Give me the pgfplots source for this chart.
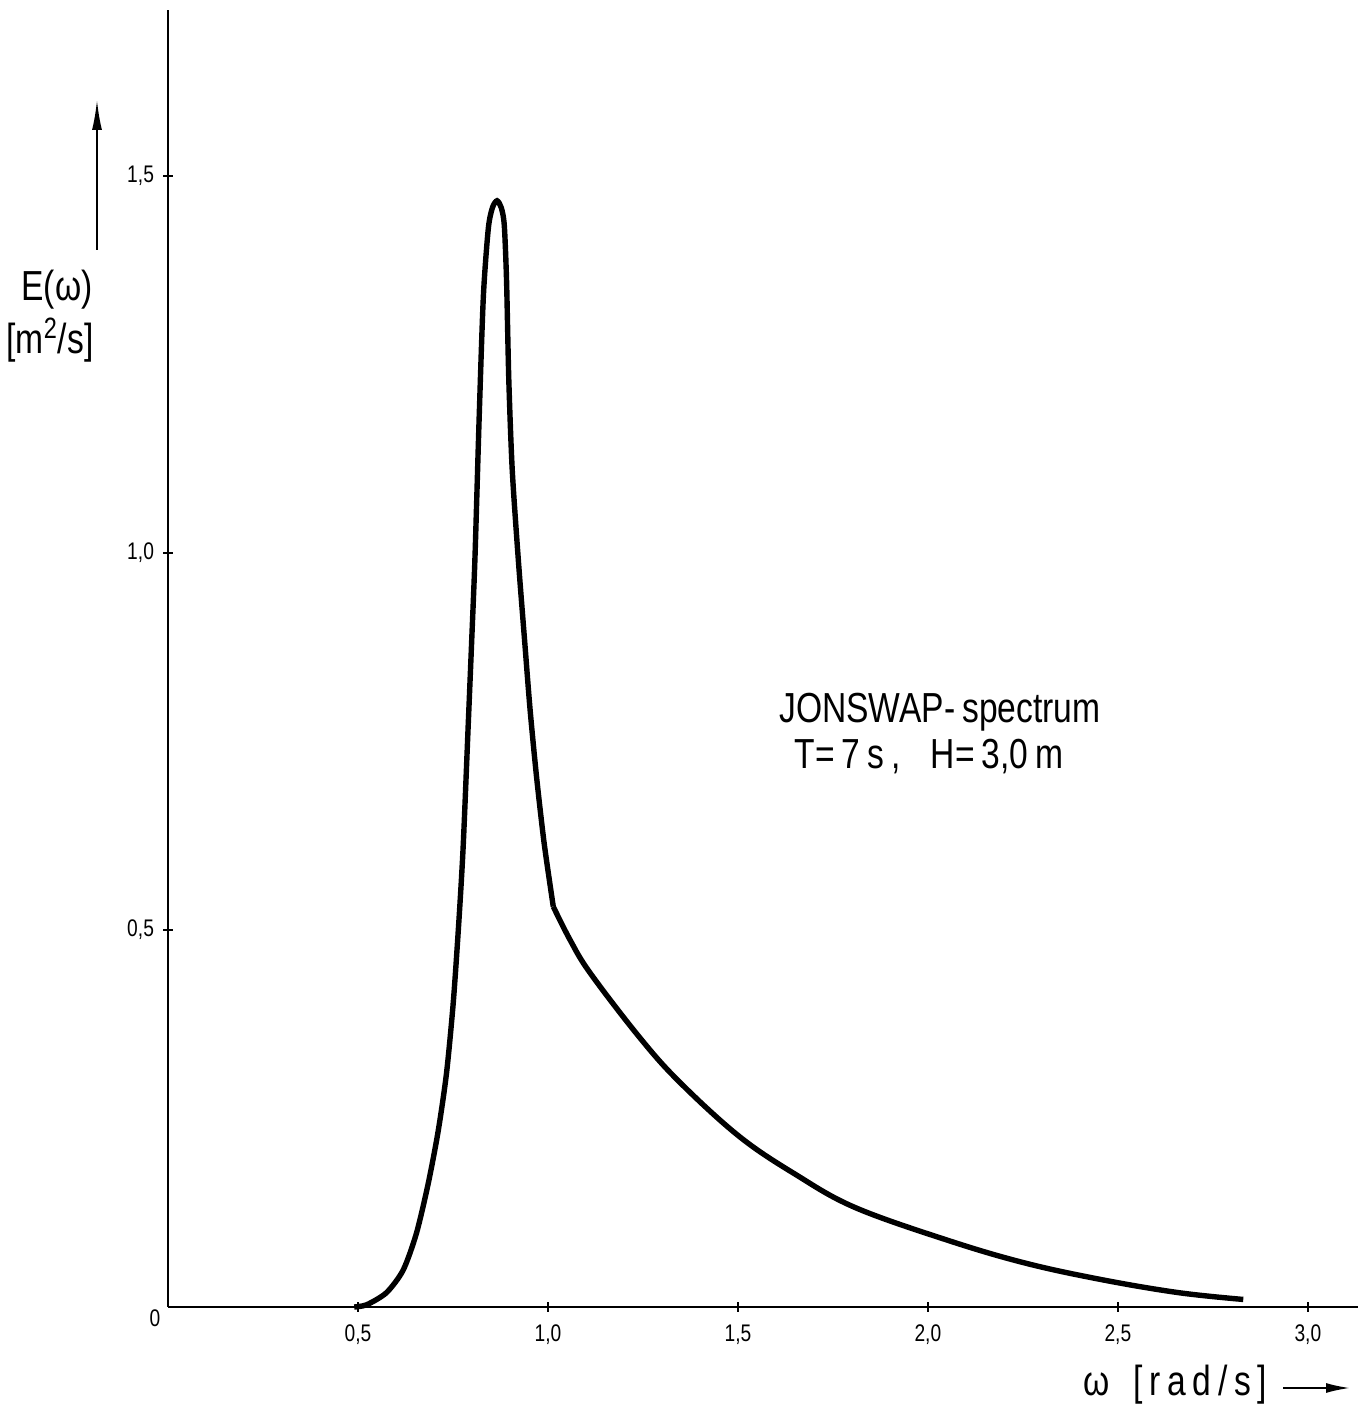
\documentclass[border=0pt]{standalone}
\usepackage{pgfplots}
\pgfplotsset{compat=1.18}
\usepackage{fontspec}
\setmainfont[FakeStretch=0.8]{Liberation Sans}
\usetikzlibrary{arrows.meta}
\begin{document}
\begin{tikzpicture}[x=1pt,y=1pt]
\path[use as bounding box] (-84,-49.5) rectangle (599,653.5);
\begin{axis}[
  at={(0,0)}, anchor=south west,
  scale only axis, width=595pt, height=648.5pt,
  xmin=0, xmax=3.132, ymin=0, ymax=1.72,
  axis lines=left, axis line style={-, line width=1.2pt},
  xtick={0.5,1,1.5,2,2.5,3},
  xticklabels={0{,}5,1{,}0,1{,}5,2{,}0,2{,}5,3{,}0},
  ytick={0.5,1,1.5},
  yticklabels={0{,}5,1{,}0,1{,}5},
  tick align=center, major tick length=5pt,
  tick style={black, line width=0.9pt},
  xticklabel style={font=\fontsize{12}{14}\selectfont, yshift=-3pt},
  yticklabel style={font=\fontsize{12}{14}\selectfont, xshift=-1pt},
  clip=false,
]
\addplot[black, line width=2.7pt, smooth, tension=0.45] coordinates {
(0.490,0.000) (0.523,0.003) (0.575,0.019) (0.619,0.049) (0.654,0.098)
(0.685,0.164) (0.711,0.233) (0.733,0.310) (0.751,0.405) (0.766,0.515)
(0.777,0.612) (0.790,0.770) (0.799,0.880) (0.808,0.995) (0.819,1.180)
(0.830,1.340) (0.843,1.430) (0.854,1.458) (0.866,1.467) (0.877,1.458)
(0.885,1.435) (0.891,1.362) (0.897,1.229) (0.906,1.110) (0.922,0.991)
(0.939,0.881) (0.953,0.792) (0.970,0.703) (0.990,0.615) (1.014,0.531)
};
\addplot[black, line width=2.7pt, smooth, tension=0.6] coordinates {
(1.014,0.531) (1.058,0.487) (1.111,0.443) (1.242,0.357) (1.347,0.298)
(1.504,0.226) (1.651,0.176) (1.808,0.132) (2.055,0.088) (2.258,0.058)
(2.460,0.036) (2.660,0.019) (2.830,0.010)
};
\end{axis}
% labels and decorations
\node[font=\fontsize{12}{14}\selectfont] at (-6.5,-5.5) {0};
\node[font=\fontsize{21}{24}\selectfont] at (-55.5,508.5) {E(ω)};
\node[font=\fontsize{21}{24}\selectfont] at (-59,483.5) {[m\textsuperscript{2}/s]};
\draw[line width=1pt, -{Latex[length=15pt,width=5pt]}] (-35.5,528.5) -- (-35.5,603.5);
\node[font=\fontsize{21}{24}\selectfont] at (386,297.5) {JONSWAP-\,spectrum};
\node[font=\fontsize{21}{24}\selectfont] at (380.5,275) {T=\,7\,s\,,\enspace\ H=\,3,0\,m};
\node[font=\fontsize{21}{24}\selectfont, anchor=east] at (553,-39) {ω\hspace{12pt}\addfontfeatures{LetterSpace=16}[rad/s]};
\draw[line width=1pt, -{Latex[length=12pt,width=5pt]}] (557.5,-40.5) -- (591,-40.5);
\end{tikzpicture}
\end{document}
